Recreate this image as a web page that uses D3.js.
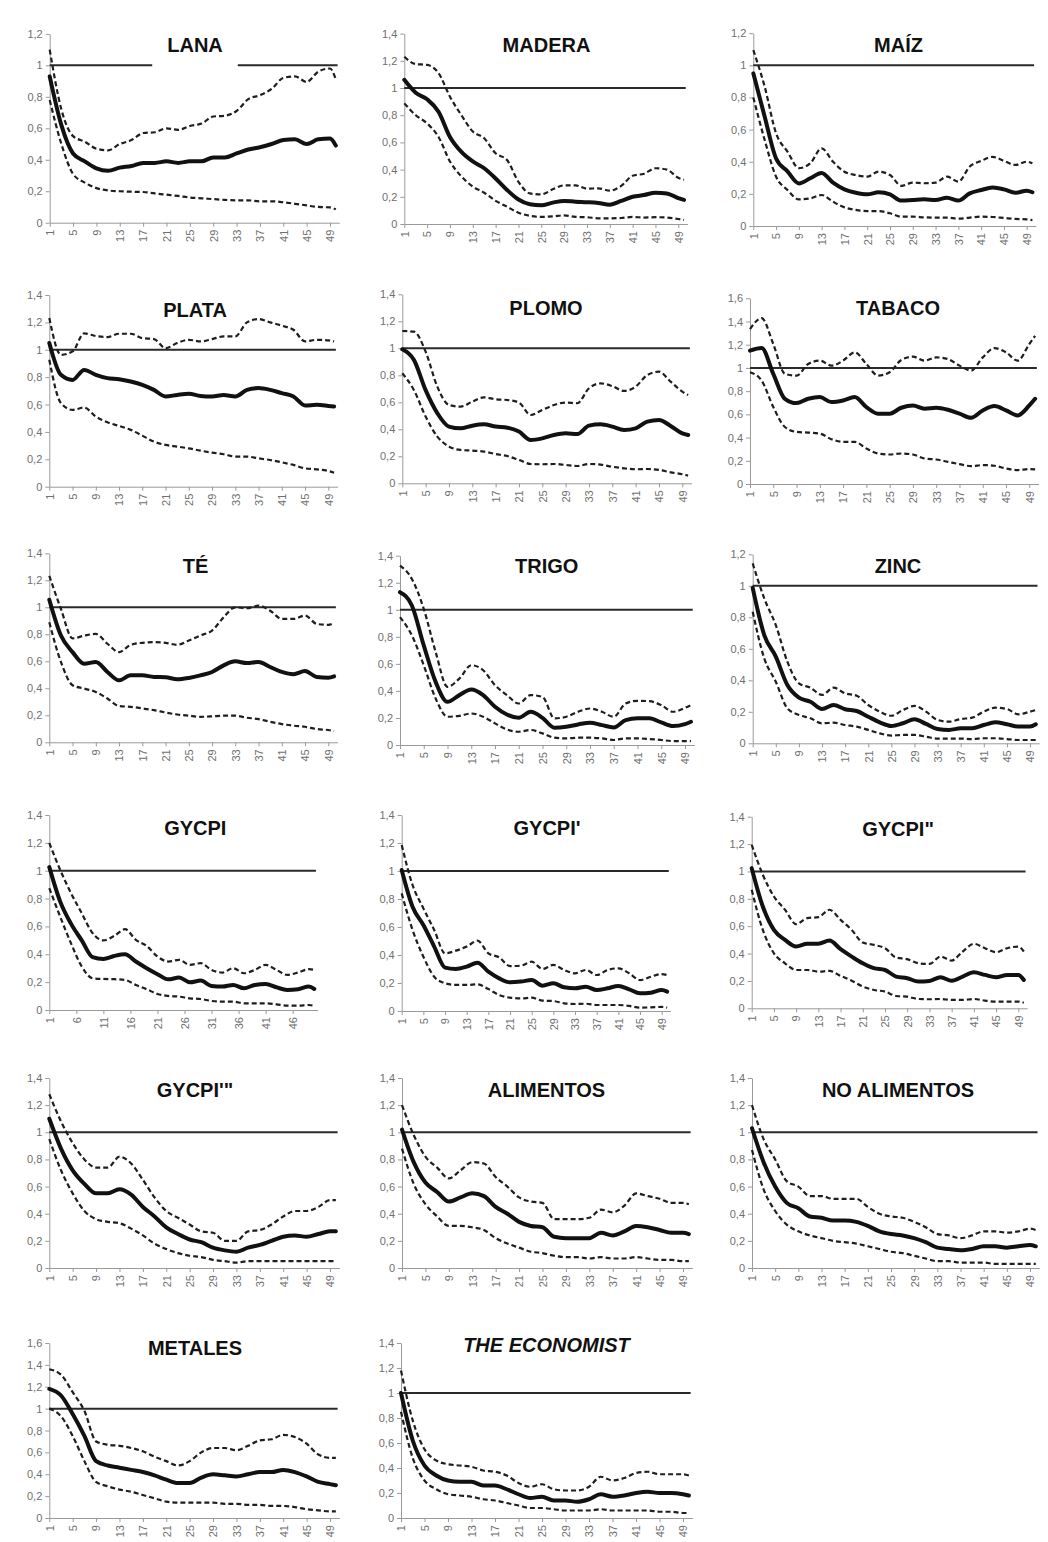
<!DOCTYPE html>
<html>
<head>
<meta charset="utf-8">
<script src="https://cdn.jsdelivr.net/npm/d3@7"></script>
<style>
  body { margin: 0; background: #fff; }
  svg { display: block; }
</style>
</head>
<body>
<svg id="chart" width="1048" height="1542"></svg>
<script>
// Periods at which each series is sampled (x axis categories)
const periodos = [1, 3, 5, 7, 9, 11, 13, 15, 17, 19, 21, 23, 25, 27, 29, 31, 33, 35, 37, 39, 41, 43, 45, 47, 49, 50];

// Tick labels
const ticksY12 = [0, 0.2, 0.4, 0.6, 0.8, 1, 1.2];
const ticksY14 = [0, 0.2, 0.4, 0.6, 0.8, 1, 1.2, 1.4];
const ticksY16 = [0, 0.2, 0.4, 0.6, 0.8, 1, 1.2, 1.4, 1.6];
const ticksX4 = [1, 5, 9, 13, 17, 21, 25, 29, 33, 37, 41, 45, 49];
const ticksX5 = [1, 6, 11, 16, 21, 26, 31, 36, 41, 46];

// Panel titles
const titulos = ["LANA", "MADERA", "MAÍZ", "PLATA", "PLOMO", "TABACO", "TÉ", "TRIGO", "ZINC",
  "GYCPI", "GYCPI'", "GYCPI\"", "GYCPI'\"", "ALIMENTOS", "NO ALIMENTOS", "METALES", "THE ECONOMIST"];

// Series: central estimate (media) and upper / lower bands (sup / inf)
const lanaMedia = [0.93,0.62,0.44,0.39,0.345,0.33,0.35,0.36,0.38,0.38,0.39,0.38,0.39,0.39,0.415,0.415,0.44,0.465,0.48,0.50,0.525,0.53,0.50,0.53,0.535,0.49];
const lanaSup   = [1.10,0.72,0.55,0.515,0.47,0.46,0.50,0.525,0.57,0.575,0.60,0.59,0.615,0.63,0.675,0.68,0.71,0.785,0.81,0.85,0.92,0.93,0.895,0.96,0.98,0.91];
const lanaInf   = [0.78,0.50,0.31,0.255,0.22,0.205,0.20,0.197,0.195,0.186,0.178,0.17,0.16,0.155,0.15,0.145,0.142,0.142,0.136,0.136,0.13,0.12,0.11,0.10,0.097,0.085];

const maderaMedia = [1.06,0.965,0.917,0.826,0.64,0.53,0.46,0.41,0.335,0.25,0.18,0.145,0.137,0.157,0.17,0.164,0.16,0.154,0.142,0.17,0.20,0.213,0.23,0.225,0.19,0.177];
const maderaSup   = [1.23,1.176,1.17,1.11,0.936,0.80,0.68,0.63,0.52,0.47,0.31,0.225,0.218,0.255,0.284,0.284,0.26,0.262,0.245,0.28,0.355,0.37,0.41,0.40,0.34,0.325];
const maderaInf   = [0.887,0.80,0.74,0.64,0.46,0.35,0.275,0.23,0.17,0.127,0.083,0.06,0.052,0.056,0.064,0.052,0.05,0.042,0.042,0.044,0.052,0.047,0.05,0.047,0.037,0.03];

const maizMedia = [0.95,0.68,0.42,0.34,0.265,0.297,0.33,0.27,0.228,0.207,0.197,0.21,0.197,0.158,0.162,0.166,0.162,0.176,0.158,0.203,0.224,0.239,0.228,0.207,0.22,0.21];
const maizSup   = [1.095,0.867,0.577,0.463,0.36,0.39,0.483,0.40,0.338,0.317,0.307,0.338,0.317,0.25,0.27,0.266,0.27,0.307,0.276,0.37,0.405,0.43,0.405,0.38,0.40,0.39];
const maizInf   = [0.80,0.535,0.307,0.224,0.166,0.172,0.193,0.151,0.116,0.10,0.093,0.093,0.079,0.058,0.058,0.054,0.052,0.052,0.046,0.052,0.058,0.056,0.05,0.044,0.041,0.037];

const plataMedia = [1.05,0.817,0.78,0.853,0.817,0.793,0.785,0.768,0.744,0.707,0.659,0.67,0.678,0.663,0.659,0.67,0.659,0.707,0.72,0.707,0.683,0.659,0.593,0.598,0.59,0.585];
const plataSup   = [1.232,0.963,0.988,1.12,1.10,1.093,1.117,1.117,1.085,1.078,1.012,1.049,1.073,1.061,1.078,1.098,1.098,1.20,1.224,1.20,1.176,1.146,1.061,1.073,1.068,1.061];
const plataInf   = [0.927,0.61,0.561,0.578,0.512,0.47,0.444,0.415,0.373,0.329,0.305,0.293,0.28,0.263,0.249,0.237,0.22,0.22,0.207,0.195,0.178,0.159,0.134,0.127,0.115,0.102];

const plomoMedia = [0.993,0.914,0.69,0.52,0.42,0.407,0.427,0.437,0.42,0.412,0.383,0.321,0.333,0.358,0.37,0.365,0.427,0.437,0.42,0.395,0.407,0.457,0.469,0.425,0.37,0.358];
const plomoSup   = [1.128,1.123,0.975,0.716,0.58,0.568,0.605,0.637,0.622,0.617,0.598,0.506,0.543,0.58,0.598,0.593,0.704,0.74,0.72,0.684,0.716,0.802,0.827,0.753,0.679,0.654];
const plomoInf   = [0.815,0.69,0.494,0.346,0.272,0.247,0.242,0.235,0.217,0.202,0.173,0.143,0.141,0.143,0.136,0.128,0.143,0.138,0.123,0.111,0.104,0.106,0.099,0.081,0.067,0.057];

const tabacoMedia = [1.149,1.171,0.949,0.734,0.697,0.734,0.749,0.706,0.72,0.749,0.663,0.606,0.606,0.657,0.677,0.649,0.657,0.64,0.606,0.571,0.634,0.671,0.634,0.591,0.677,0.734];
const tabacoSup   = [1.334,1.429,1.206,0.949,0.934,1.034,1.063,1.02,1.063,1.134,1.034,0.934,0.963,1.069,1.097,1.063,1.091,1.077,1.02,0.977,1.091,1.171,1.134,1.063,1.206,1.277];
const tabacoInf   = [0.963,0.891,0.663,0.491,0.449,0.443,0.434,0.386,0.363,0.363,0.306,0.263,0.254,0.263,0.254,0.22,0.211,0.191,0.171,0.154,0.163,0.157,0.134,0.12,0.129,0.126];

const teMedia = [1.056,0.791,0.668,0.582,0.595,0.521,0.459,0.496,0.496,0.484,0.482,0.467,0.477,0.496,0.521,0.57,0.60,0.587,0.595,0.558,0.521,0.504,0.528,0.484,0.479,0.489];
const teSup   = [1.233,0.988,0.77,0.79,0.803,0.73,0.668,0.722,0.737,0.742,0.737,0.722,0.754,0.791,0.828,0.926,1.0,0.993,1.012,0.975,0.914,0.914,0.939,0.877,0.87,0.885];
const teInf   = [0.889,0.595,0.423,0.398,0.373,0.324,0.268,0.263,0.251,0.238,0.221,0.206,0.197,0.189,0.192,0.197,0.197,0.182,0.172,0.152,0.135,0.123,0.115,0.098,0.091,0.084];

const trigoMedia = [1.13,1.032,0.737,0.467,0.319,0.369,0.41,0.369,0.283,0.226,0.201,0.246,0.201,0.128,0.135,0.152,0.165,0.147,0.13,0.184,0.197,0.197,0.167,0.14,0.155,0.172];
const trigoSup   = [1.327,1.228,1.007,0.688,0.43,0.491,0.59,0.553,0.442,0.369,0.307,0.369,0.356,0.197,0.209,0.246,0.27,0.246,0.209,0.307,0.327,0.324,0.295,0.246,0.275,0.295];
const trigoInf   = [0.946,0.811,0.59,0.344,0.209,0.216,0.233,0.209,0.16,0.115,0.098,0.111,0.086,0.054,0.049,0.054,0.054,0.049,0.037,0.049,0.049,0.044,0.037,0.029,0.029,0.029];

const zincMedia = [0.987,0.687,0.55,0.37,0.29,0.264,0.218,0.243,0.216,0.205,0.169,0.133,0.11,0.127,0.152,0.123,0.091,0.085,0.095,0.095,0.116,0.133,0.121,0.106,0.106,0.121];
const zincSup   = [1.142,0.92,0.75,0.518,0.381,0.353,0.307,0.353,0.317,0.302,0.243,0.201,0.175,0.211,0.237,0.201,0.148,0.137,0.154,0.163,0.201,0.226,0.218,0.184,0.201,0.211];
const zincInf   = [0.835,0.539,0.391,0.222,0.18,0.159,0.127,0.131,0.116,0.106,0.085,0.063,0.049,0.053,0.053,0.042,0.03,0.03,0.03,0.027,0.032,0.032,0.027,0.021,0.021,0.021];

const gycpiMedia = [1.026,0.78,0.62,0.50,0.38,0.367,0.388,0.40,0.348,0.30,0.257,0.22,0.233,0.199,0.211,0.173,0.168,0.18,0.156,0.18,0.187,0.163,0.144,0.149,0.168,0.151];
const gycpiSup   = [1.199,1.007,0.84,0.695,0.552,0.50,0.532,0.58,0.504,0.46,0.384,0.348,0.36,0.324,0.336,0.288,0.269,0.30,0.264,0.288,0.324,0.288,0.252,0.269,0.293,0.288];
const gycpiInf   = [0.875,0.671,0.48,0.312,0.228,0.223,0.221,0.216,0.18,0.149,0.115,0.101,0.096,0.084,0.079,0.065,0.06,0.06,0.048,0.048,0.048,0.041,0.031,0.031,0.036,0.029];

const gycpi1Media = [1.007,0.745,0.614,0.46,0.31,0.30,0.317,0.345,0.281,0.233,0.205,0.21,0.221,0.181,0.198,0.169,0.162,0.174,0.15,0.162,0.179,0.155,0.126,0.131,0.15,0.138];
const gycpi1Sup   = [1.186,0.90,0.733,0.579,0.412,0.431,0.46,0.502,0.412,0.383,0.321,0.324,0.352,0.30,0.329,0.293,0.269,0.293,0.257,0.293,0.305,0.269,0.221,0.245,0.264,0.257];
const gycpi1Inf   = [0.84,0.579,0.388,0.245,0.198,0.186,0.186,0.19,0.157,0.114,0.095,0.09,0.095,0.074,0.071,0.055,0.05,0.052,0.043,0.043,0.043,0.036,0.024,0.026,0.029,0.024];

const gycpi2Media = [1.024,0.744,0.573,0.50,0.451,0.471,0.471,0.495,0.432,0.378,0.329,0.293,0.28,0.232,0.22,0.195,0.20,0.227,0.202,0.232,0.263,0.244,0.227,0.244,0.244,0.207];
const gycpi2Sup   = [1.195,0.976,0.817,0.72,0.615,0.659,0.666,0.72,0.646,0.573,0.48,0.463,0.439,0.371,0.359,0.329,0.324,0.378,0.349,0.415,0.471,0.439,0.41,0.439,0.451,0.415];
const gycpi2Inf   = [0.866,0.573,0.402,0.329,0.28,0.28,0.268,0.273,0.237,0.202,0.159,0.134,0.122,0.09,0.085,0.068,0.066,0.068,0.061,0.061,0.068,0.056,0.049,0.049,0.049,0.041];

const gycpi3Media = [1.10,0.88,0.72,0.62,0.55,0.55,0.58,0.54,0.45,0.38,0.30,0.25,0.21,0.19,0.15,0.13,0.12,0.15,0.17,0.20,0.23,0.24,0.23,0.25,0.27,0.27];
const gycpi3Sup   = [1.28,1.08,0.92,0.80,0.74,0.74,0.82,0.77,0.65,0.52,0.42,0.37,0.32,0.27,0.26,0.20,0.20,0.27,0.28,0.32,0.38,0.42,0.42,0.45,0.50,0.50];
const gycpi3Inf   = [0.95,0.72,0.55,0.42,0.36,0.34,0.33,0.29,0.24,0.18,0.14,0.11,0.09,0.08,0.06,0.05,0.04,0.05,0.05,0.05,0.05,0.05,0.05,0.05,0.05,0.05];

const alimMedia = [1.02,0.78,0.63,0.56,0.49,0.52,0.55,0.53,0.45,0.40,0.34,0.31,0.30,0.23,0.22,0.22,0.22,0.26,0.24,0.27,0.31,0.30,0.28,0.26,0.26,0.25];
const alimSup   = [1.20,0.98,0.82,0.74,0.66,0.72,0.78,0.77,0.67,0.60,0.52,0.49,0.48,0.36,0.36,0.36,0.37,0.43,0.41,0.46,0.55,0.53,0.51,0.48,0.48,0.47];
const alimInf   = [0.88,0.62,0.47,0.38,0.31,0.31,0.30,0.28,0.22,0.18,0.15,0.12,0.11,0.09,0.08,0.08,0.07,0.08,0.07,0.07,0.08,0.07,0.06,0.06,0.05,0.05];

const noAlimMedia = [1.03,0.78,0.60,0.48,0.44,0.38,0.37,0.35,0.35,0.34,0.31,0.27,0.25,0.24,0.22,0.19,0.15,0.14,0.13,0.14,0.16,0.16,0.15,0.16,0.17,0.16];
const noAlimSup   = [1.20,0.95,0.80,0.64,0.60,0.53,0.53,0.51,0.51,0.51,0.45,0.40,0.38,0.37,0.34,0.30,0.25,0.24,0.22,0.24,0.27,0.27,0.26,0.27,0.29,0.28];
const noAlimInf   = [0.87,0.58,0.42,0.32,0.27,0.24,0.22,0.20,0.19,0.18,0.16,0.14,0.12,0.11,0.09,0.07,0.05,0.05,0.04,0.04,0.04,0.03,0.03,0.03,0.03,0.03];

const metalesMedia = [1.18,1.12,0.95,0.75,0.52,0.48,0.46,0.44,0.42,0.39,0.35,0.32,0.32,0.37,0.40,0.39,0.38,0.40,0.42,0.42,0.44,0.42,0.38,0.33,0.31,0.30];
const metalesSup   = [1.36,1.31,1.15,0.98,0.70,0.67,0.66,0.64,0.61,0.56,0.52,0.48,0.52,0.60,0.64,0.64,0.62,0.66,0.71,0.72,0.76,0.74,0.68,0.58,0.55,0.55];
const metalesInf   = [1.00,0.93,0.75,0.52,0.33,0.29,0.26,0.24,0.21,0.18,0.15,0.14,0.14,0.14,0.14,0.13,0.13,0.12,0.12,0.11,0.11,0.10,0.08,0.07,0.06,0.06];

const econMedia = [1.00,0.62,0.42,0.34,0.30,0.29,0.29,0.26,0.26,0.23,0.19,0.16,0.17,0.14,0.14,0.13,0.15,0.19,0.17,0.18,0.20,0.21,0.20,0.20,0.19,0.18];
const econSup   = [1.18,0.78,0.55,0.46,0.43,0.42,0.41,0.38,0.37,0.34,0.28,0.25,0.27,0.23,0.22,0.22,0.25,0.33,0.30,0.32,0.36,0.37,0.35,0.35,0.35,0.34];
const econInf   = [0.85,0.48,0.30,0.23,0.19,0.18,0.17,0.15,0.14,0.12,0.10,0.08,0.08,0.07,0.06,0.06,0.06,0.07,0.06,0.06,0.06,0.06,0.05,0.05,0.04,0.04];

// Panel definitions: series, tick sets and placement on the page
// xa / xb: pixel of period 1 / period 49; y0 / yt: pixel of 0 / top tick;
// tb: title baseline; tx: title centre; bb: depth of the title box below the baseline
const paneles = [
  { t: 0,  m: lanaMedia,   s: lanaSup,   i: lanaInf,   yT: ticksY12, xT: ticksX4, xa: 49.7,  xb: 330,   y0: 222.7, yt: 33.9,  tb: 52,    tx: 195,   bb: 16 },
  { t: 1,  m: maderaMedia, s: maderaSup, i: maderaInf, yT: ticksY14, xT: ticksX4, xa: 404.3, xb: 678.3, y0: 224,   yt: 33.6,  tb: 52.3,  tx: 546.5 },
  { t: 2,  m: maizMedia,   s: maizSup,   i: maizInf,   yT: ticksY12, xT: ticksX4, xa: 753.3, xb: 1026.7,y0: 226,   yt: 33.2,  tb: 52.3,  tx: 898.5 },
  { t: 3,  m: plataMedia,  s: plataSup,  i: plataInf,  yT: ticksY14, xT: ticksX4, xa: 49.3,  xb: 328.3, y0: 486.7, yt: 295,   tb: 316.5, tx: 195 },
  { t: 4,  m: plomoMedia,  s: plomoSup,  i: plomoInf,  yT: ticksY14, xT: ticksX4, xa: 402.3, xb: 682.3, y0: 483.3, yt: 294.3, tb: 315,   tx: 546 },
  { t: 5,  m: tabacoMedia, s: tabacoSup, i: tabacoInf, yT: ticksY16, xT: ticksX4, xa: 750,   xb: 1029.3,y0: 484,   yt: 298.3, tb: 315,   tx: 898 },
  { t: 6,  m: teMedia,     s: teSup,     i: teInf,     yT: ticksY14, xT: ticksX4, xa: 49.3,  xb: 328.3, y0: 742.3, yt: 553.3, tb: 573.3, tx: 195.5 },
  { t: 7,  m: trigoMedia,  s: trigoSup,  i: trigoInf,  yT: ticksY14, xT: ticksX4, xa: 400,   xb: 685,   y0: 745,   yt: 555.7, tb: 573.3, tx: 546.7 },
  { t: 8,  m: zincMedia,   s: zincSup,   i: zincInf,   yT: ticksY12, xT: ticksX4, xa: 752.7, xb: 1030,  y0: 743.3, yt: 554.3, tb: 572.5, tx: 898 },
  { t: 9,  m: gycpiMedia,  s: gycpiSup,  i: gycpiInf,  yT: ticksY14, xT: ticksX5, xa: 49.3,  xb: 308.9, y0: 1010,  yt: 815,   tb: 835,   tx: 195.3 },
  { t: 10, m: gycpi1Media, s: gycpi1Sup, i: gycpi1Inf, yT: ticksY14, xT: ticksX4, xa: 401.7, xb: 661.7, y0: 1011,  yt: 815,   tb: 835,   tx: 547 },
  { t: 11, m: gycpi2Media, s: gycpi2Sup, i: gycpi2Inf, yT: ticksY14, xT: ticksX4, xa: 751.7, xb: 1018.3,y0: 1008.3,yt: 816.7, tb: 835.5, tx: 898 },
  { t: 12, m: gycpi3Media, s: gycpi3Sup, i: gycpi3Inf, yT: ticksY14, xT: ticksX4, xa: 49.3,  xb: 330,   y0: 1268,  yt: 1078,  tb: 1097,  tx: 195 },
  { t: 13, m: alimMedia,   s: alimSup,   i: alimInf,   yT: ticksY14, xT: ticksX4, xa: 402,   xb: 683,   y0: 1268,  yt: 1078,  tb: 1097,  tx: 546.5 },
  { t: 14, m: noAlimMedia, s: noAlimSup, i: noAlimInf, yT: ticksY14, xT: ticksX4, xa: 752,   xb: 1030,  y0: 1268,  yt: 1078,  tb: 1097,  tx: 898 },
  { t: 15, m: metalesMedia,s: metalesSup,i: metalesInf,yT: ticksY16, xT: ticksX4, xa: 49.3,  xb: 330,   y0: 1518,  yt: 1343,  tb: 1355,  tx: 195 },
  { t: 16, m: econMedia,   s: econSup,   i: econInf,   yT: ticksY14, xT: ticksX4, xa: 401,   xb: 683,   y0: 1518,  yt: 1343,  tb: 1352,  tx: 546.5, italic: true }
];

const FONT = "'Liberation Sans', Arial, Helvetica, sans-serif";
const svg = d3.select("#chart");
svg.append("rect").attr("width", 1048).attr("height", 1542).attr("fill", "#fff");

const fmt = d => String(Math.round(d * 10) / 10).replace(".", ",");

paneles.forEach(p => {
  const g = svg.append("g");
  const yMax = p.yT[p.yT.length - 1];

  const xRef = d3.scaleLinear().domain([1, 49]).range([p.xa, p.xb]);
  const xEnd = 50.6;
  const x = d3.scaleLinear().domain([1, xEnd]).range([p.xa, xRef(xEnd)]);
  const y = d3.scaleLinear().domain([0, yMax]).range([p.y0, p.yt]);

  // y axis
  const ay = g.append("g")
    .attr("transform", `translate(${p.xa},0)`)
    .call(d3.axisLeft(y).tickValues(p.yT).tickFormat(fmt).tickSize(4).tickSizeOuter(0).tickPadding(3));

  // x axis with vertical labels
  const ax = g.append("g")
    .attr("transform", `translate(0,${p.y0})`)
    .call(d3.axisBottom(x).tickValues(p.xT).tickFormat(d => d).tickSize(4).tickSizeOuter(0));
  ax.selectAll("text")
    .attr("transform", "rotate(-90)")
    .attr("text-anchor", "end")
    .attr("x", -7)
    .attr("y", 0)
    .attr("dy", "0.35em");

  [ay, ax].forEach(a => {
    a.select(".domain").attr("stroke", "#9a9a9a").attr("stroke-width", 1);
    a.selectAll(".tick line").attr("stroke", "#9a9a9a");
    a.selectAll(".tick text").attr("fill", "#707070").style("font-family", FONT).style("font-size", "11px");
  });

  // reference line at 1
  g.append("line")
    .attr("x1", x(1)).attr("x2", x(50.3))
    .attr("y1", y(1)).attr("y2", y(1))
    .attr("stroke", "#2a2a2a").attr("stroke-width", 2);

  const line = d3.line()
    .x((d, k) => x(periodos[k]))
    .y(d => y(d))
    .curve(d3.curveMonotoneX);

  // bands
  [p.s, p.i].forEach(serie => {
    g.append("path")
      .attr("d", line(serie))
      .attr("fill", "none")
      .attr("stroke", "#1e1e1e")
      .attr("stroke-width", 2.2)
      .attr("stroke-dasharray", "5,3");
  });

  // central estimate
  g.append("path")
    .attr("d", line(p.m))
    .attr("fill", "none")
    .attr("stroke", "#111")
    .attr("stroke-width", 4)
    .attr("stroke-linejoin", "round")
    .attr("stroke-linecap", "round");

  // title on a white box
  const tg = g.append("g");
  const box = tg.append("rect").attr("fill", "#fff");
  const txt = tg.append("text")
    .attr("x", p.tx).attr("y", p.tb)
    .attr("text-anchor", "middle")
    .style("font-family", FONT)
    .style("font-size", "20px")
    .style("font-weight", "bold")
    .style("font-style", p.italic ? "italic" : "normal")
    .attr("fill", "#111")
    .text(titulos[p.t]);
  const w = txt.node().getComputedTextLength();
  const below = p.bb || 10;
  box.attr("x", p.tx - w / 2 - 15).attr("y", p.tb - 27)
    .attr("width", w + 30).attr("height", 27 + below);
});
</script>
</body>
</html>
